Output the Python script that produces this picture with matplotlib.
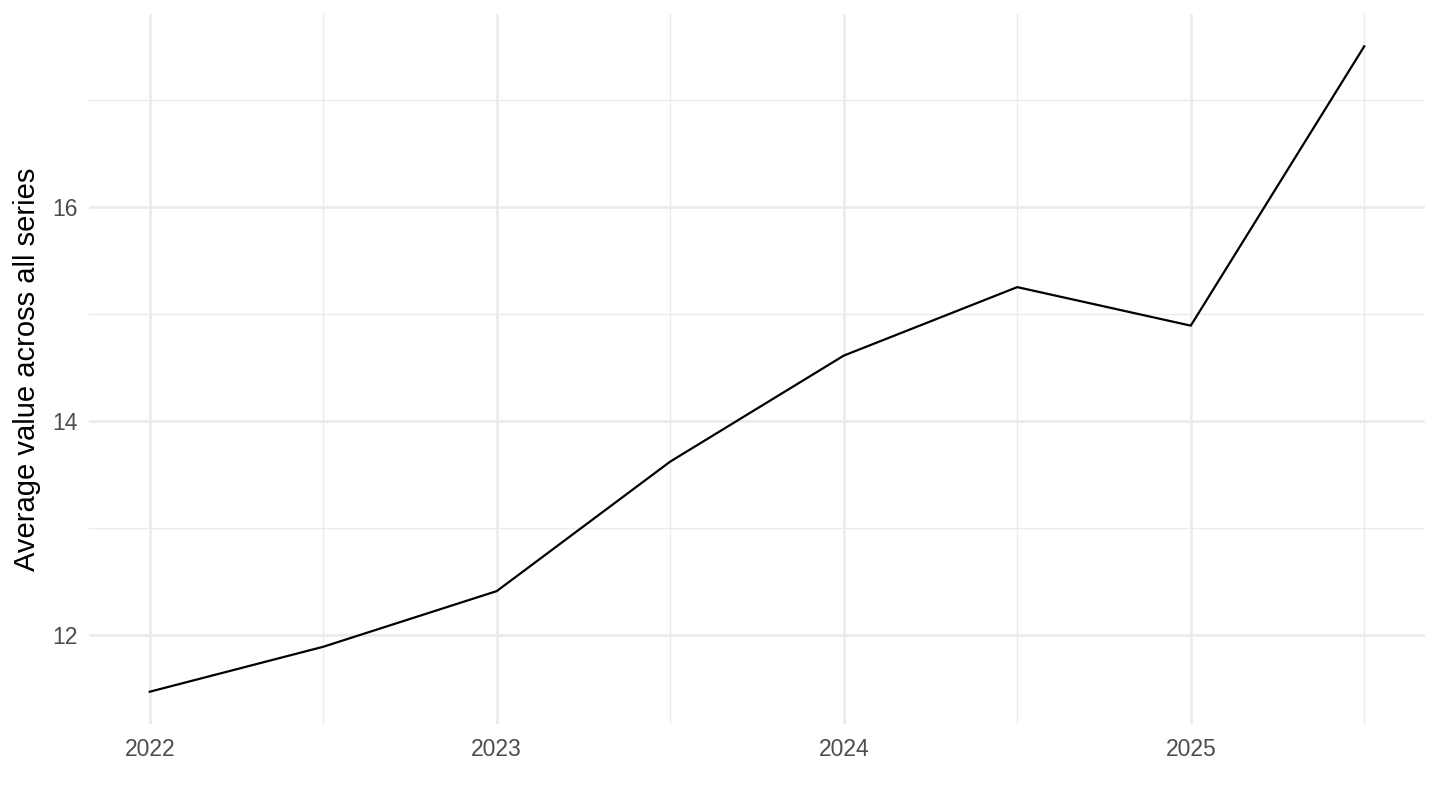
import matplotlib
matplotlib.use("Agg")
import matplotlib.pyplot as plt
import numpy as np

# Values (half-year steps)
years = [2022.0, 2022.5, 2023.0, 2023.5, 2024.0, 2024.5, 2025.0, 2025.5]
avg_value = [11.47, 11.89, 12.41, 13.62, 14.61, 15.25, 14.89, 17.50]

x_ticks = [2022, 2023, 2024, 2025]
x_minor = [2022.5, 2023.5, 2024.5, 2025.5]
y_ticks = [12, 14, 16]
y_minor = [13, 15, 17]

plt.rcParams['font.family'] = ['Liberation Sans', 'DejaVu Sans']

fig = plt.figure(figsize=(14.4, 8.1), dpi=100)
ax = fig.add_axes([89 / 1440, 86 / 810, (1425 - 89) / 1440, (724 - 14) / 810])

# ggplot-like expansion of 5% each side
xr = max(years) - min(years)
yr = max(avg_value) - min(avg_value)
ax.set_xlim(min(years) - 0.05 * xr, max(years) + 0.05 * xr)
ax.set_ylim(min(avg_value) - 0.05 * yr, max(avg_value) + 0.05 * yr)

grid_col = "#EBEBEB"
for v in x_minor:
    ax.axvline(v, color=grid_col, lw=1.0, zorder=0)
for v in y_minor:
    ax.axhline(v, color=grid_col, lw=1.0, zorder=0)
for v in x_ticks:
    ax.axvline(v, color=grid_col, lw=1.9, zorder=0)
for v in y_ticks:
    ax.axhline(v, color=grid_col, lw=1.9, zorder=0)

ax.plot(years, avg_value, color="black", lw=1.6, zorder=3)

ax.set_xticks(x_ticks)
ax.set_xticklabels([str(t) for t in x_ticks])
ax.set_yticks(y_ticks)
ax.set_yticklabels([str(t) for t in y_ticks])
ax.tick_params(axis="x", length=0, labelsize=16.5, colors="#4D4D4D", pad=10)
ax.tick_params(axis="y", length=0, labelsize=16.5, colors="#4D4D4D", pad=8)
for s in ax.spines.values():
    s.set_visible(False)

ax.set_ylabel("Average value across all series", fontsize=21, color="black", labelpad=8)

fig.savefig("out.png", dpi=100)
